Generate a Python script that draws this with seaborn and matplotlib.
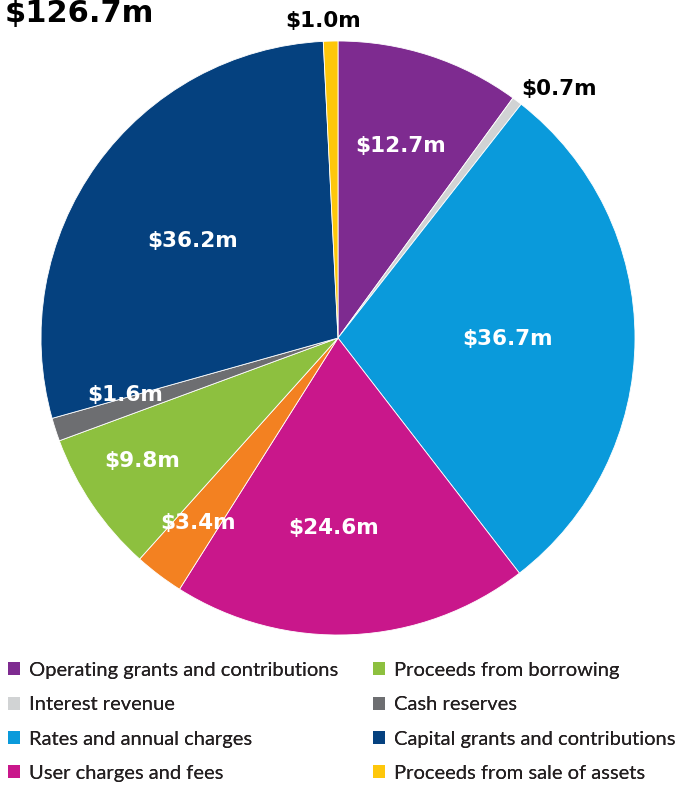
import matplotlib
matplotlib.use("Agg")
import matplotlib.pyplot as plt
import seaborn as sns
import numpy as np

sns.set_theme(style="white")
plt.rcParams["font.family"] = ["DejaVu Sans"]

# data, clockwise from 12 o'clock
categories = [
    "Operating grants and contributions",
    "Interest revenue",
    "Rates and annual charges",
    "User charges and fees",
    "Other",  # orange slice, not in legend
    "Proceeds from borrowing",
    "Cash reserves",
    "Capital grants and contributions",
    "Proceeds from sale of assets",
]
values = [12.7, 0.7, 36.7, 24.6, 3.4, 9.8, 1.6, 36.2, 1.0]
value_labels = ["$12.7m", "$0.7m", "$36.7m", "$24.6m", "$3.4m",
                "$9.8m", "$1.6m", "$36.2m", "$1.0m"]
in_legend = [True, True, True, True, False, True, True, True, True]
total_label = "$126.7m"

colors = sns.color_palette([
    "#7E2B90", "#D1D3D4", "#0A9ADB", "#C9178B", "#F38121",
    "#8DC03F", "#6D6E71", "#05417F", "#FEC70B",
])

# label layout: radial distance (in radii), angle tweak (deg), colour
label_r = [0.68, 1.12, 0.57, 0.64, 0.78, 0.78, 0.74, 0.59, 1.07]
label_dtheta = [0, -4.5, 0, -4, 0, -2, -3, 2, 1.3]
label_col = ["white", "black", "white", "white", "white",
             "white", "white", "white", "black"]

W, H = 682, 785
fig = plt.figure(figsize=(W / 100, H / 100), dpi=100)
ax = fig.add_axes([41 / W, 150 / H, 594 / W, 594 / H])

wedges, _ = ax.pie(
    values,
    colors=colors,
    startangle=90,
    counterclock=False,
    radius=1,
    wedgeprops={"edgecolor": "white", "linewidth": 0.6},
)
ax.set_xlim(-1, 1)
ax.set_ylim(-1, 1)
ax.set_aspect("equal")
ax.axis("off")

for w, lab, r, dt, c in zip(wedges, value_labels, label_r, label_dtheta, label_col):
    th = np.deg2rad((w.theta1 + w.theta2) / 2 + dt)
    ax.text(r * np.cos(th), r * np.sin(th), lab, ha="center", va="center",
            color=c, fontsize=15.5, fontweight="bold", clip_on=False)

fig.text(5 / W, 1 - 22 / H, total_label, ha="left", va="baseline",
         fontsize=22, fontweight="heavy", color="black")

# legend in two columns
leg_items = [(w, n) for w, n, keep in zip(wedges, categories, in_legend) if keep]
cols = [leg_items[:4], leg_items[4:]]
col_x = [8 / W, 373 / W]
for items, x in zip(cols, col_x):
    lg = fig.legend(
        [i[0] for i in items], [i[1] for i in items],
        loc="upper left", bbox_to_anchor=(x, 1 - 662 / H),
        frameon=False, borderpad=0, borderaxespad=0,
        handlelength=0.62, handleheight=0.62, handletextpad=0.4,
        labelspacing=0.86,
        prop={"family": ["Lato", "DejaVu Sans"], "weight": "normal", "size": 14.5},
    )
    for t in lg.get_texts():
        t.set_color("#231F20")
    for p in lg.get_patches():
        p.set_linewidth(0)
    fig.add_artist(lg)

fig.savefig("out.png", dpi=100)
